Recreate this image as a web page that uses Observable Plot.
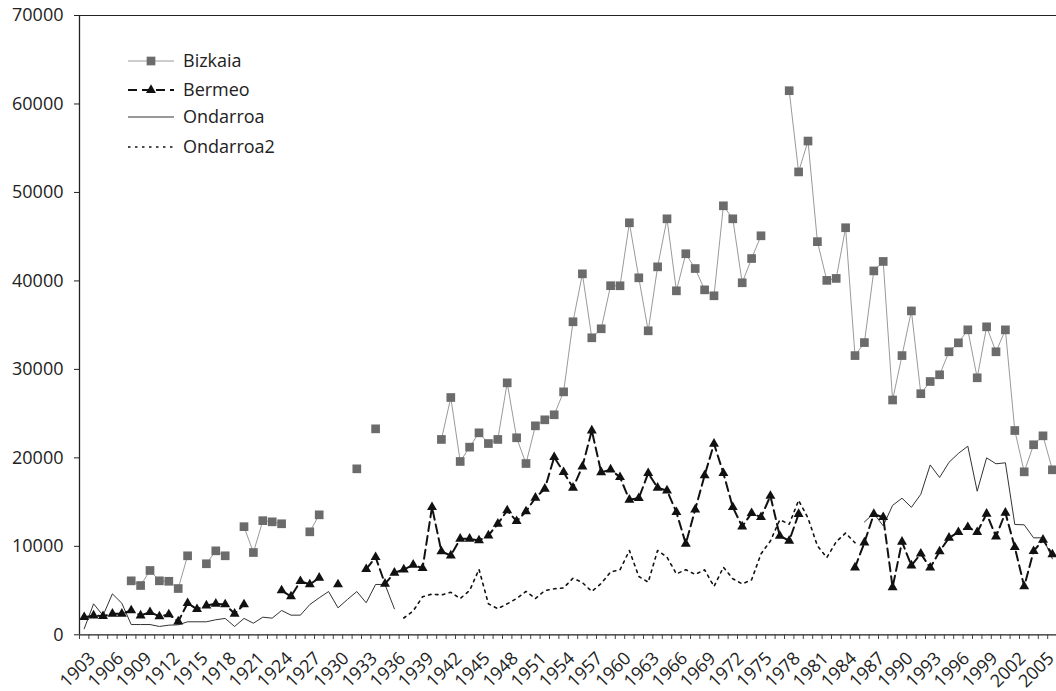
<!DOCTYPE html>
<html>
<head>
<meta charset="utf-8">
<script src="https://cdn.jsdelivr.net/npm/d3@7"></script>
<script src="https://cdn.jsdelivr.net/npm/@observablehq/plot@0.6"></script>
<style>
  html, body { margin: 0; padding: 0; background: #fff; }
  #wrap { position: relative; width: 1056px; height: 691px; overflow: hidden; font-family: "Open Sans", sans-serif; }
  #legend { position: absolute; left: 0; top: 0; pointer-events: none; }
</style>
</head>
<body>
<div id="wrap"></div>
<script>
// ---- data (annual values, null = no data) ----
const years = d3.range(1903, 2007);
const labelYears = [1903,1906,1909,1912,1915,1918,1921,1924,1927,1930,1933,1936,1939,1942,1945,1948,1951,1954,1957,1960,1963,1966,1969,1972,1975,1978,1981,1984,1987,1990,1993,1996,1999,2002,2005];
const yTicks = [0,10000,20000,30000,40000,50000,60000,70000];
const seriesNames = ["Bizkaia","Bermeo","Ondarroa","Ondarroa2"];

const bizkaia = [
  null,null,null,null,null,               // 1903-1907
  6100,5570,7270,6100,6050,5230,8930,null,8030,9490,8930,null, // 1908-1919
  12220,9300,12900,12770,12550,null,null,11640,13560,null,      // 1920-1929
  null,null,18760,null,23280,null,null,null,null,null,          // 1930-1939
  null,22080,26820,19590,21210,22830,21620,22080,28480,22270,   // 1940-1949
  19360,23620,24300,24870,27460,35380,40800,33570,34590,39460,  // 1950-1959
  39450,46570,40350,34360,41590,47020,38880,43070,41400,38990,  // 1960-1969
  38320,48490,47020,39790,42530,45100,null,null,61500,52320,    // 1970-1979
  55810,44440,40060,40280,46010,31560,33030,41130,42200,26540,  // 1980-1989
  31560,36610,27250,28630,29390,31990,33000,34470,29050,34810,  // 1990-1999
  31990,34470,23090,18420,21480,22490,18650                     // 2000-2006
];
const bermeo = [
  1990,2180,2100,2370,2370,2750,2180,                           // 1903-1909
  2560,2070,2300,1500,3570,2900,3310,3500,3430,2370,            // 1910-1919
  3430,null,null,null,5010,4330,6060,5690,6440,null,            // 1920-1929
  5690,null,null,7420,8770,5760,7010,7380,7910,7530,            // 1930-1939
  14430,9420,8960,10850,10850,10660,11220,12550,14050,12840,    // 1940-1949
  13940,15480,16500,20080,18380,16620,19020,23090,18360,18670,  // 1950-1959
  17810,15260,15440,18270,16610,16310,13860,10290,14160,18010,  // 1960-1969
  21590,18270,14420,12240,13750,13290,15700,11170,10630,13640,  // 1970-1979
  null,null,null,null,null,7600,10420,13640,13290,5370,         // 1980-1989
  10510,7830,9170,7580,9420,10960,11600,12170,11600,13680,      // 1990-1999
  11110,13790,9900,5460,9450,10740,9080                         // 2000-2006
];
const ondarroa = [
  680,3500,2180,4630,3570,1160,1160,                            // 1903-1909
  1160,940,1090,1130,1470,1470,1470,1700,1850,940,              // 1910-1919
  1850,1310,1990,1880,2750,2220,2220,3420,4180,4890,            // 1920-1929
  3050,3990,4890,3620,5690,5690,2940,null,null,null,            // 1930-1939
  null,null,null,null,null,null,null,null,null,null,            // 1940-1949
  null,null,null,null,null,null,null,null,null,null,            // 1950-1959
  null,null,null,null,null,null,null,null,null,null,            // 1960-1969
  null,null,null,null,null,null,null,null,null,null,            // 1970-1979
  null,null,null,null,null,null,12750,13730,12310,14630,        // 1980-1989
  15440,14410,15880,19200,17780,19500,20500,21320,16230,20000,  // 1990-1999
  19330,19440,12470,12430,10960,10960,8590                      // 2000-2006
];
const ondarroa2 = [
  null,null,null,null,null,null,null,                           // 1903-1909
  null,null,null,null,null,null,null,null,null,null,            // 1910-1919
  null,null,null,null,null,null,null,null,null,null,            // 1920-1929
  null,null,null,null,null,null,null,1900,2700,4300,            // 1930-1939
  4600,4500,4800,4100,5000,7400,3500,2950,3500,4100,            // 1940-1949
  4900,4100,5000,5200,5300,6400,5900,4900,5800,7100,            // 1950-1959
  7350,9530,6590,5950,9530,8770,6890,7350,6820,7350,            // 1960-1969
  5460,7640,6330,5760,6220,9150,10600,13000,12500,15200,        // 1970-1979
  13200,10060,8730,10510,11500,10400,null,null,null,null,       // 1980-1989
  null,null,null,null,null,null,null,null,null,null,            // 1990-1999
  null,null,null,null,null,null,null                            // 2000-2006
];

const toRows = vals => years.map((year, i) => ({year, value: vals[i]}));
const bizRows = toRows(bizkaia), berRows = toRows(bermeo), ondRows = toRows(ondarroa), ond2Rows = toRows(ondarroa2);
const boundaries = d3.range(years[0] - 0.5, years[years.length - 1] + 1, 1);

const chart = Plot.plot({
  width: 1056,
  height: 691,
  marginLeft: 79,
  marginTop: 15,
  marginBottom: 57,
  marginRight: 0,
  style: {fontFamily: "'Open Sans', sans-serif", fontSize: "18px", color: "#222", background: "#fff"},
  x: {type: "linear", domain: [1902.5, 2006.5], range: [79, 1056.6]},
  y: {domain: [0, 70000], range: [634.3, 15]},
  marks: [
    Plot.ruleY([70000], {stroke: "#222", strokeWidth: 1}),
    Plot.ruleY([0], {stroke: "#222", strokeWidth: 1.3}),
    Plot.ruleX([1902.5], {stroke: "#222", strokeWidth: 1.3}),
    Plot.axisY({ticks: yTicks, tickSize: 5, tickPadding: 11, tickFormat: d3.format("d"), label: null, stroke: "#222"}),
    Plot.axisX({ticks: boundaries, tickSize: 5, tickFormat: () => "", label: null, stroke: "#444"}),
    Plot.axisX({ticks: labelYears, tickSize: 0, tickRotate: -45, tickFormat: d => String(d), label: null, textAnchor: "end", dx: 8, dy: 9}),
    // Ondarroa2: dotted
    Plot.lineY(ond2Rows, {x: "year", y: "value", stroke: "#111", strokeWidth: 1.6, strokeDasharray: "2.5,4.5"}),
    // Ondarroa: thin solid
    Plot.lineY(ondRows, {x: "year", y: "value", stroke: "#333", strokeWidth: 1}),
    // Bermeo: dashed with triangles
    Plot.lineY(berRows, {x: "year", y: "value", stroke: "#111", strokeWidth: 2, strokeDasharray: "9,5"}),
    Plot.dot(berRows.filter(d => d.value != null), {x: "year", y: "value", symbol: "triangle", r: 3.7, fill: "#111", stroke: "none"}),
    // Bizkaia: grey line with squares
    Plot.lineY(bizRows, {x: "year", y: "value", stroke: "#9a9a9a", strokeWidth: 1}),
    Plot.dot(bizRows.filter(d => d.value != null), {x: "year", y: "value", symbol: "square", r: 4.9, fill: "#6b6b6b", stroke: "none"})
  ]
});
const wrap = document.getElementById("wrap");
wrap.appendChild(chart);

// legend overlay
const leg = d3.select(wrap).append("svg").attr("id", "legend").attr("width", 1056).attr("height", 691)
  .style("font-family", "'Open Sans', sans-serif").style("font-size", "18px");
const legY = [61, 90, 117, 147];
const styles = [
  {stroke: "#9a9a9a", w: 1, dash: null, marker: "square"},
  {stroke: "#111", w: 2, dash: "9,5", marker: "triangle"},
  {stroke: "#333", w: 1, dash: null, marker: null},
  {stroke: "#111", w: 1.6, dash: "2.5,4.5", marker: null}
];
seriesNames.forEach((name, i) => {
  const s = styles[i], y = legY[i];
  leg.append("line").attr("x1", 128).attr("x2", 174).attr("y1", y).attr("y2", y)
    .attr("stroke", s.stroke).attr("stroke-width", s.w).attr("stroke-dasharray", s.dash);
  if (s.marker) {
    const sym = s.marker === "square" ? d3.symbolSquare : d3.symbolTriangle;
    const size = s.marker === "square" ? Math.PI * 4.9 * 4.9 : Math.PI * 3.7 * 3.7;
    leg.append("path").attr("d", d3.symbol(sym, size)()).attr("transform", `translate(151,${y})`)
      .attr("fill", s.marker === "square" ? "#6b6b6b" : "#111");
  }
  leg.append("text").attr("x", 183).attr("y", y).attr("dy", "0.35em").attr("fill", "#222").text(name);
});
</script>
</body>
</html>
